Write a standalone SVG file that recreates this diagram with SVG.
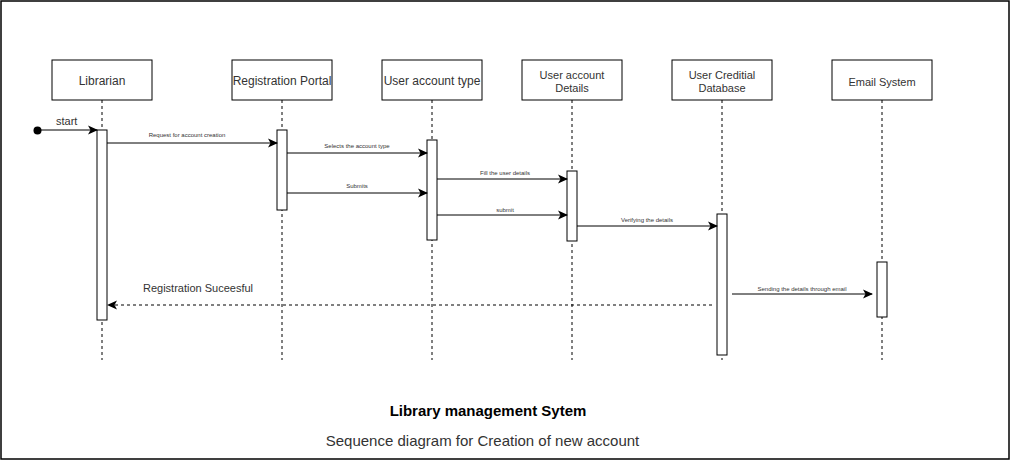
<svg xmlns="http://www.w3.org/2000/svg" width="1011" height="461" viewBox="0 0 1011 461">
<style>
.box{fill:#fff;stroke:#000;stroke-width:1}
.act{fill:#fff;stroke:#000;stroke-width:1}
.life{stroke:#000;stroke-width:1;stroke-dasharray:3 3;fill:none}
.msg{stroke:#000;stroke-width:1;fill:none}
.ret{stroke:#000;stroke-width:1;stroke-dasharray:3 3;fill:none}
.name{font-family:"Liberation Sans",Arial,sans-serif;font-size:12px;fill:#333;text-anchor:middle}
.name2{font-family:"Liberation Sans",Arial,sans-serif;font-size:11px;fill:#333;text-anchor:middle}
.lbl{font-family:"Liberation Sans",Arial,sans-serif;font-size:6px;fill:#333;text-anchor:middle}
.big{font-family:"Liberation Sans",Arial,sans-serif;font-size:11px;fill:#333}
</style>
<defs>
<marker id="arr" viewBox="0 0 10 10" refX="9" refY="5" markerWidth="10" markerHeight="10" markerUnits="userSpaceOnUse" orient="auto">
<path d="M0,0.5 L10,5 L0,9.5 L2.5,5 Z" fill="#000"/>
</marker>
</defs>
<rect x="1" y="1" width="1008" height="458" fill="#fff" stroke="#000" stroke-width="1.5"/>

<g id="librarian">
<line class="life" x1="102" y1="100" x2="102" y2="360"/>
<rect class="box" x="52" y="60" width="100" height="40"/>
<text class="name" x="102" y="85">Librarian</text>
<rect class="act" x="97" y="130" width="10" height="190"/>
</g>
<g id="registration-portal">
<line class="life" x1="282" y1="100" x2="282" y2="360"/>
<rect class="box" x="232" y="60" width="100" height="40"/>
<text class="name" x="282" y="85">Registration Portal</text>
<rect class="act" x="277" y="130" width="10" height="80"/>
</g>
<g id="user-account-type">
<line class="life" x1="432" y1="100" x2="432" y2="360"/>
<rect class="box" x="382" y="60" width="100" height="40"/>
<text class="name" x="432" y="85">User account type</text>
<rect class="act" x="427" y="140" width="10" height="100"/>
</g>
<g id="user-account-details">
<line class="life" x1="572" y1="100" x2="572" y2="360"/>
<rect class="box" x="522" y="60" width="100" height="40"/>
<text class="name2" x="572" y="78.5">User account</text>
<text class="name2" x="572" y="91.5">Details</text>
<rect class="act" x="567" y="171" width="10" height="70"/>
</g>
<g id="user-creditial-database">
<line class="life" x1="722" y1="100" x2="722" y2="360"/>
<rect class="box" x="672" y="60" width="100" height="40"/>
<text class="name2" x="722" y="78.5">User Creditial</text>
<text class="name2" x="722" y="91.5">Database</text>
<rect class="act" x="717" y="214" width="10" height="141"/>
</g>
<g id="email-system">
<line class="life" x1="882" y1="100" x2="882" y2="360"/>
<rect class="box" x="832" y="60" width="100" height="40"/>
<text class="name2" x="882" y="85.5">Email System</text>
<rect class="act" x="877" y="262" width="10" height="55"/>
</g>

<g id="connectors">
<circle cx="37.5" cy="130.5" r="4" fill="#000"/>
<line class="msg" x1="38" y1="130" x2="97" y2="130" marker-end="url(#arr)"/>
<text class="big" x="56" y="125">start</text>

<line class="msg" x1="107" y1="143" x2="277" y2="143" marker-end="url(#arr)"/>
<text class="lbl" x="187" y="137">Request for account creation</text>

<line class="msg" x1="287" y1="153" x2="427" y2="153" marker-end="url(#arr)"/>
<text class="lbl" x="357" y="148">Selects the account type</text>

<line class="msg" x1="287" y1="193" x2="427" y2="193" marker-end="url(#arr)"/>
<text class="lbl" x="357" y="188">Submits</text>

<line class="msg" x1="437" y1="179" x2="567" y2="179" marker-end="url(#arr)"/>
<text class="lbl" x="505" y="175">Fill the user details</text>

<line class="msg" x1="437" y1="215" x2="567" y2="215" marker-end="url(#arr)"/>
<text class="lbl" x="505" y="212">submit</text>

<line class="msg" x1="577" y1="226" x2="717" y2="226" marker-end="url(#arr)"/>
<text class="lbl" x="647" y="222">Verifying the details</text>

<line class="msg" x1="732" y1="294" x2="872" y2="294" marker-end="url(#arr)"/>
<text class="lbl" x="802" y="291">Sending the details through email</text>

<line class="ret" x1="712" y1="305" x2="108" y2="305" marker-end="url(#arr)"/>
<text class="big" x="143" y="292">Registration Suceesful</text>
</g>

<text x="488" y="415.5" font-family="Liberation Sans, Arial, sans-serif" font-size="15" font-weight="bold" fill="#000" text-anchor="middle">Library management Sytem</text>
<text x="482.5" y="446" font-family="Liberation Sans, Arial, sans-serif" font-size="15" fill="#333" text-anchor="middle">Sequence diagram for Creation of new account</text>
</svg>
